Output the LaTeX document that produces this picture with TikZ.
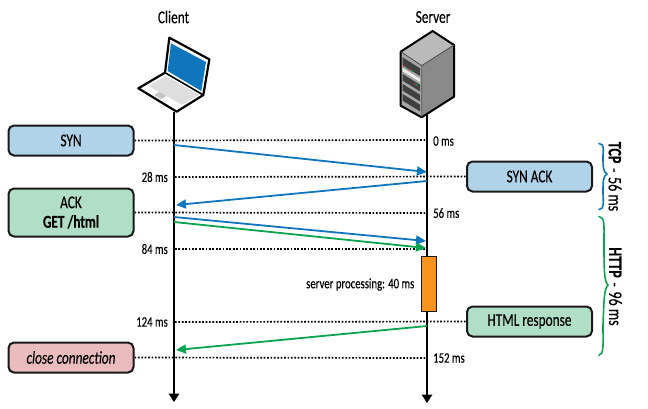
\documentclass[tikz,border=0pt]{standalone}
\usepackage{fontspec}
\setmainfont[FakeStretch=0.74,FakeBold=0.25]{Carlito}
\usetikzlibrary{arrows.meta}
\definecolor{cblue}{HTML}{0F75BC}
\definecolor{cgreen}{HTML}{0AA350}
\definecolor{fblue}{HTML}{B1D3EA}
\definecolor{fgreen}{HTML}{B1DEC7}
\definecolor{fpink}{HTML}{EBBCBE}
\definecolor{forange}{HTML}{F7941E}
\tikzset{
  box/.style={draw=black!90,line width=2pt,rounded corners=5.5pt,minimum width=125pt,inner sep=0pt,align=center,font=\fontsize{18}{19.5}\selectfont},
  ms/.style={inner sep=0pt,font=\fontsize{14.5}{16}\selectfont},
  dots/.style={line width=1.7pt,dash pattern=on 1.7pt off 1.7pt},
  life/.style={line width=2pt,-{Triangle[length=8.5pt,width=10.5pt]}},
  msg/.style={line width=1.8pt,-{Triangle[length=10pt,width=9pt]}},
  brc/.style={line width=1.6pt,line cap=round},
}
\begin{document}
\begin{tikzpicture}[x=1pt,y=-1pt]
\useasboundingbox (0,0) rectangle (648,408);
% titles
\node[inner sep=0pt,font=\fontsize{18}{20}\selectfont] (client) at (173.5,17) {Client};
\node[inner sep=0pt,font=\fontsize{18}{20}\selectfont] (server) at (433,17) {Server};
% coordinates
\coordinate (ctop) at (174,112);
\coordinate (cbot) at (174,402);
\coordinate (stop) at (427,113);
\coordinate (sbot) at (427,403);
\coordinate (c28) at (175,177);
\coordinate (c84) at (175,249);
\coordinate (c124) at (175,322);
\coordinate (s0) at (427,140);
\coordinate (s56) at (427,213);
\coordinate (s84) at (427,249);
\coordinate (s152) at (427,358);
% lifelines
\draw[life] (ctop) -- (cbot);
\draw[life] (stop) -- (sbot);
% boxes
\node[box,fill=fblue,minimum height=30pt] (syn) at (71,140.5) {SYN};
\node[box,fill=fgreen,minimum height=48pt] (ack) at (71,212.5) {ACK\\\textbf{GET /html}};
\node[box,fill=fblue,minimum height=30pt] (synack) at (529.5,176.5) {SYN ACK};
\node[box,fill=fgreen,minimum height=30pt] (html) at (529.5,321.5) {HTML response};
\node[box,fill=fpink,minimum height=30pt] (close) at (71,357.5) {\textit{close connection}};
\node[draw=black!90,line width=1.7pt,fill=forange,minimum width=15pt,minimum height=55pt,inner sep=0pt] (proc) at (429,284) {};
% dotted lines
\draw[dots] (syn.east) -- (s0);
\draw[dots] (c28) -- (synack.west);
\draw[dots] (ack.east) -- (s56);
\draw[dots] (c84) -- (s84);
\draw[dots] (c124) -- (html.west);
\draw[dots] (close.east) -- (s152);
% messages
\coordinate (a1) at (174,145); \coordinate (a2) at (427,172);
\coordinate (b1) at (427,181); \coordinate (b2) at (176,205);
\coordinate (c1) at (174,217); \coordinate (c2) at (426,241);
\coordinate (d1) at (174,222); \coordinate (d2) at (426,248);
\coordinate (e1) at (427,326); \coordinate (e2) at (176,350);
\draw[msg,cblue] (a1) -- (a2);
\draw[msg,cblue] (b1) -- (b2);
\draw[msg,cblue] (c1) -- (c2);
\draw[msg,cgreen] (d1) -- (d2);
\draw[msg,cgreen] (e1) -- (e2);
% time labels
\node[ms,anchor=east] (t28) at (168,177) {28 ms};
\node[ms,anchor=east] (t84) at (168,249) {84 ms};
\node[ms,anchor=east] (t124) at (168,322) {124 ms};
\node[ms,anchor=west] (t0) at (433,141) {0 ms};
\node[ms,anchor=west] (t56) at (433,213) {56 ms};
\node[ms,anchor=west] (t152) at (433,358) {152 ms};
\node[ms,anchor=east] (tproc) at (414.5,284.5) {server processing: 40 ms};
% braces
\draw[brc,cblue] (599,143.5) .. controls (605,144) and (603,150) .. (603,156) .. controls (603,166) and (603,172) .. (607,174) .. controls (603,176) and (603,182) .. (603,192) .. controls (603,202) and (605,209) .. (599,209.5);
\draw[brc,cgreen] (599,216.5) .. controls (605,217) and (604,226) .. (604,240) .. controls (604,270) and (604,281) .. (608,285) .. controls (604,289) and (604,300) .. (603,325) .. controls (603,345) and (604,354) .. (599,355.5);
\node[rotate=-90,inner sep=0pt,font=\fontsize{19}{21}\selectfont] (tcp) at (615,176.5) {\textbf{TCP}\hspace{1.5pt} - \hspace{1.5pt}56 ms};
\node[rotate=-90,inner sep=0pt,font=\fontsize{19}{21}\selectfont] (http) at (615.5,286.5) {\textbf{HTTP}\hspace{1.5pt} - \hspace{1.5pt}96 ms};
% laptop
\begin{scope}[shift={(120,0)},x=0.33333pt,y=-0.33333pt,line join=round]
\fill[white,draw=black,line width=2.2pt] (148,113) -- (268,178) -- (250,285) -- (170,335) -- (55,265) -- (135,218) -- cycle;
\draw[black,line width=1.6pt] (135,218) -- (250,285);
\fill[cblue] (153,130) -- (258,186) -- (244,273) -- (143,213) -- cycle;
\fill[black!13] (85,258) -- (137,228) -- (238,284) -- (186,314) -- cycle;
\fill[black!22] (102,285) -- (118,276) -- (140,288) -- (124,298) -- cycle;
\end{scope}
% server
\begin{scope}[shift={(380,0)},x=0.33333pt,y=-0.33333pt,line join=round]
\fill[black!27] (158,93) -- (222,135) -- (125,197) -- (62,155) -- cycle;
\fill[black!35] (62,155) -- (125,197) -- (125,352) -- (62,317) -- cycle;
\fill[black!46] (125,197) -- (222,135) -- (222,290) -- (125,352) -- cycle;
\fill[black!75] (68,172) -- (120,205) -- (120,228) -- (68,195) -- cycle;
\fill[black!8] (68,204) -- (120,236) -- (120,246) -- (68,214) -- cycle;
\fill[black!75] (68,222) -- (120,254) -- (120,274) -- (68,242) -- cycle;
\fill[black!75] (68,252) -- (120,284) -- (120,304) -- (68,272) -- cycle;
\fill[black!75] (68,282) -- (120,314) -- (120,334) -- (68,302) -- cycle;
\fill[red!60!gray] (72,199) circle (3) (88,209) circle (3) (104,252) circle (3);
\fill[cgreen] (80,205) circle (3) (97,214) circle (3) (109,255) circle (3);
\draw[black,line width=2pt] (158,93) -- (222,135) -- (222,290) -- (125,352) -- (62,317) -- (62,155) -- cycle;
\draw[black!70,line width=.8pt] (62,155) -- (125,197) -- (222,135) (125,197) -- (125,352);
\end{scope}
\end{tikzpicture}
\end{document}
